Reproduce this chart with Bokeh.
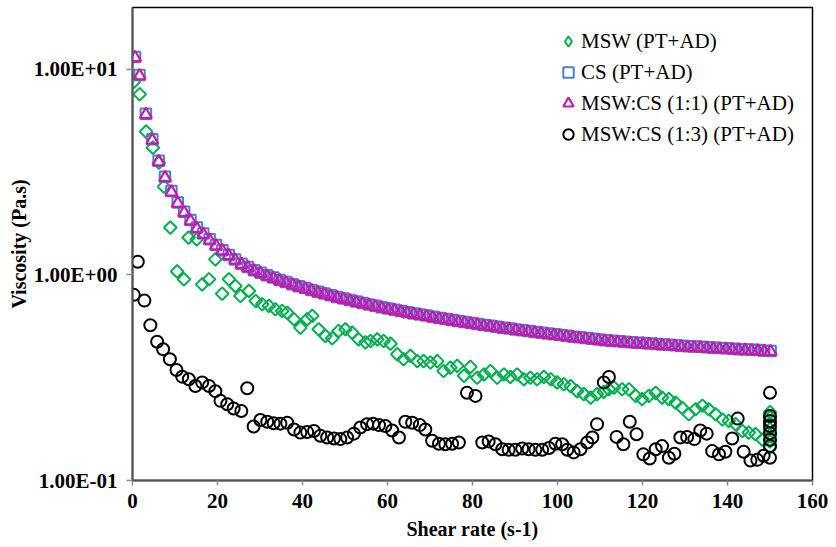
import math
from bokeh.plotting import figure
from bokeh.models import FixedTicker, Legend, LegendItem, Range1d
from bokeh.embed import file_html
from bokeh.resources import INLINE

# ---------------- data ----------------
shear_grid = [0.6, 1.65, 3.15, 4.65, 6.15, 7.65, 9.15, 10.65, 12.15, 13.65,
              15.15, 16.65, 18.15, 19.65, 21.15, 22.65, 24.15, 25.65, 27.15, 28.65,
              30.15, 31.65, 33.15, 34.65, 36.15, 37.65, 39.15, 40.65, 42.15, 43.65,
              45.15, 46.65, 48.15, 49.65, 51.15, 52.65, 54.15, 55.65, 57.15, 58.65,
              60.15, 61.65, 63.15, 64.65, 66.15, 67.65, 69.15, 70.65, 72.15, 73.65,
              75.15, 76.65, 78.15, 79.65, 81.15, 82.65, 84.15, 85.65, 87.15, 88.65,
              90.15, 91.65, 93.15, 94.65, 96.15, 97.65, 99.15, 100.65, 102.15, 103.65,
              105.15, 106.65, 108.15, 109.65, 111.15, 112.65, 114.15, 115.65, 117.15, 118.65,
              120.15, 121.65, 123.15, 124.65, 126.15, 127.65, 129.15, 130.65, 132.15, 133.65,
              135.15, 136.65, 138.15, 139.65, 141.15, 142.65, 144.15, 145.65, 147.15, 148.65,
              150.15]

visc_cs = [11.5, 9.4, 6.09, 4.57, 3.59, 3.00, 2.56, 2.25, 2.03, 1.85,
           1.70, 1.59, 1.49, 1.40, 1.32, 1.25, 1.19, 1.135, 1.094, 1.054,
           1.026, 0.997, 0.971, 0.946, 0.923, 0.902, 0.882, 0.863, 0.845, 0.828,
           0.812, 0.796, 0.782, 0.768, 0.755, 0.742, 0.730, 0.719, 0.708, 0.697,
           0.687, 0.678, 0.668, 0.659, 0.650, 0.642, 0.634, 0.626, 0.618, 0.611,
           0.604, 0.597, 0.590, 0.584, 0.578, 0.571, 0.566, 0.560, 0.554, 0.549,
           0.543, 0.538, 0.533, 0.528, 0.524, 0.519, 0.514, 0.510, 0.506, 0.501,
           0.497, 0.493, 0.489, 0.485, 0.481, 0.479, 0.476, 0.473, 0.471, 0.468,
           0.466, 0.464, 0.462, 0.459, 0.457, 0.455, 0.452, 0.450, 0.448, 0.447,
           0.445, 0.443, 0.441, 0.440, 0.437, 0.435, 0.434, 0.432, 0.431, 0.428,
           0.427]

visc_msw_cs_11 = [11.4, 9.3, 6.02, 4.52, 3.55, 2.97, 2.53, 2.23, 2.01, 1.83,
                  1.68, 1.575, 1.475, 1.385, 1.31, 1.24, 1.18, 1.125, 1.085, 1.045,
                  1.016, 0.987, 0.961, 0.937, 0.914, 0.893, 0.873, 0.854, 0.837, 0.820,
                  0.804, 0.788, 0.774, 0.760, 0.747, 0.735, 0.723, 0.712, 0.701, 0.690,
                  0.680, 0.671, 0.661, 0.652, 0.644, 0.636, 0.628, 0.620, 0.612, 0.605,
                  0.598, 0.591, 0.584, 0.578, 0.572, 0.565, 0.560, 0.554, 0.548, 0.544,
                  0.538, 0.533, 0.528, 0.523, 0.519, 0.514, 0.509, 0.505, 0.501, 0.496,
                  0.492, 0.488, 0.484, 0.480, 0.476, 0.474, 0.471, 0.468, 0.466, 0.463,
                  0.461, 0.459, 0.457, 0.454, 0.452, 0.450, 0.447, 0.445, 0.443, 0.442,
                  0.440, 0.438, 0.436, 0.435, 0.433, 0.431, 0.430, 0.428, 0.427, 0.424,
                  0.423]

shear_msw = [0.3, 1.7, 3.2, 4.8, 6.2, 7.4, 8.9, 10.5, 12.1, 13.2,
             15.1, 16.4, 18.0, 19.5, 21.1, 22.7, 24.2, 25.4, 27.4, 29.0,
             30.5, 32.1, 33.6, 35.2, 36.4, 38.0, 39.5, 41.1, 42.3, 43.8,
             45.4, 47.0, 48.5, 50.1, 51.7, 53.2, 54.8, 56.0, 57.6, 59.1,
             60.7, 62.3, 63.8, 65.4, 67.0, 68.5, 70.1, 71.7, 73.2, 74.8,
             76.4, 78.0, 79.5, 81.1, 82.7, 84.2, 85.8, 87.4, 88.9, 90.5,
             92.1, 93.6, 95.2, 96.8, 98.4, 99.9, 101.5, 103.1, 104.6, 106.2,
             107.8, 109.3, 110.9, 112.1, 113.3, 115.2, 116.8, 118.4, 119.9, 121.5,
             123.1, 124.6, 126.2, 127.8, 129.3, 130.9, 132.5, 134.1, 135.6, 137.2,
             138.8, 140.3, 141.9, 143.5, 145.0, 146.6, 148.2, 150.0, 150.0, 150.0,
             150.0, 150.0, 150.0, 150.0]
visc_msw = [8.7, 7.57, 4.98, 4.16, 3.52, 2.69, 1.70, 1.04, 0.953, 1.52,
            1.49, 0.90, 0.953, 1.19, 0.81, 0.953, 0.884, 0.79, 0.836, 0.747,
            0.72, 0.707, 0.681, 0.668, 0.655, 0.609, 0.554, 0.609, 0.632, 0.544,
            0.505, 0.492, 0.534, 0.544, 0.524, 0.486, 0.470, 0.477, 0.486, 0.477,
            0.463, 0.411, 0.389, 0.404, 0.381, 0.381, 0.375, 0.381, 0.341, 0.354,
            0.361, 0.323, 0.357, 0.316, 0.328, 0.341, 0.316, 0.328, 0.319, 0.328,
            0.311, 0.316, 0.311, 0.319, 0.311, 0.300, 0.294, 0.288, 0.272, 0.263,
            0.253, 0.263, 0.270, 0.278, 0.283, 0.278, 0.278, 0.258, 0.249, 0.258,
            0.267, 0.253, 0.249, 0.239, 0.226, 0.210, 0.222, 0.231, 0.222, 0.210,
            0.198, 0.195, 0.188, 0.174, 0.171, 0.168, 0.158, 0.215, 0.203, 0.190,
            0.178, 0.166, 0.155, 0.145]

shear_13 = [0.3, 1.25, 2.8, 4.2, 5.8, 7.2, 8.8, 10.35, 11.7, 13.25,
            14.8, 16.4, 18.0, 19.5, 20.7, 22.3, 23.8, 25.6, 27.0, 28.5,
            30.1, 31.7, 33.2, 34.8, 36.4, 38.0, 39.5, 41.1, 42.7, 44.2,
            45.8, 47.4, 48.9, 50.5, 52.1, 53.6, 55.2, 56.6, 58.0, 59.5,
            61.1, 62.7, 64.2, 65.8, 67.6, 68.9, 70.5, 72.1, 73.6, 75.2,
            76.8, 78.7, 80.7, 82.3, 83.8, 85.4, 87.0, 88.5, 90.1, 91.7,
            93.2, 94.8, 96.4, 98.0, 99.5, 101.1, 102.3, 103.8, 105.4, 107.0,
            108.2, 109.3, 110.9, 112.1, 113.9, 115.5, 117.0, 118.6, 120.2, 121.7,
            123.1, 124.6, 126.2, 127.5, 128.9, 130.5, 132.2, 133.6, 135.1, 136.4,
            138.0, 139.5, 141.1, 142.4, 143.8, 145.4, 147.0, 148.5, 150.0, 150.0,
            150.0, 150.0, 150.0, 150.0, 150.0, 150.0]
visc_13 = [0.80, 1.16, 0.75, 0.569, 0.473, 0.435, 0.389, 0.345, 0.320, 0.311,
           0.288, 0.300, 0.288, 0.272, 0.244, 0.235, 0.224, 0.218, 0.281, 0.183,
           0.197, 0.193, 0.190, 0.189, 0.191, 0.177, 0.171, 0.172, 0.174, 0.165,
           0.162, 0.160, 0.159, 0.162, 0.169, 0.181, 0.188, 0.189, 0.186, 0.184,
           0.175, 0.162, 0.193, 0.191, 0.186, 0.177, 0.156, 0.151, 0.150, 0.151,
           0.153, 0.267, 0.258, 0.153, 0.155, 0.150, 0.142, 0.141, 0.141, 0.143,
           0.142, 0.141, 0.141, 0.144, 0.151, 0.150, 0.141, 0.137, 0.142, 0.153,
           0.162, 0.188, 0.300, 0.319, 0.163, 0.150, 0.193, 0.168, 0.134, 0.128,
           0.142, 0.147, 0.129, 0.135, 0.162, 0.163, 0.159, 0.175, 0.169, 0.139,
           0.134, 0.138, 0.160, 0.200, 0.138, 0.125, 0.126, 0.132, 0.267, 0.206,
           0.195, 0.184, 0.170, 0.158, 0.147, 0.129]

series_labels = ["MSW (PT+AD)", "CS (PT+AD)", "MSW:CS (1:1) (PT+AD)", "MSW:CS (1:3) (PT+AD)"]
x_ticks = [0, 20, 40, 60, 80, 100, 120, 140, 160]
y_ticks = [0.1, 1.0, 10.0]
y_tick_labels = ["1.00E-01", "1.00E+00", "1.00E+01"]

# ---------------- figure ----------------
FONT = "'Liberation Serif', serif"
GREEN = "#00B050"
BLUE = "#4F81BD"
MAGENTA = "#C21BB4"

p = figure(width=836, height=547, y_axis_type="log",
           x_range=Range1d(0, 160), y_range=Range1d(0.1, 20.0),
           output_backend="svg", toolbar_location=None,
           min_border_left=132, min_border_right=24,
           min_border_top=7, min_border_bottom=67)

p.background_fill_color = "white"
p.border_fill_color = "white"
p.outline_line_color = "black"
p.outline_line_width = 1.5
p.xgrid.visible = False
p.ygrid.visible = False

r_msw = p.scatter(shear_msw, visc_msw, marker="square", angle=math.pi / 4,
                  size=9, fill_color=None, line_color=GREEN, line_width=2)
r_cs = p.scatter(shear_grid, visc_cs, marker="square", size=10.5,
                 fill_color=None, line_color=BLUE, line_width=2)
r_11 = p.scatter(shear_grid, visc_msw_cs_11, marker="triangle", size=12,
                 fill_color=None, line_color=MAGENTA, line_width=2.2)
r_13 = p.scatter(shear_13, visc_13, marker="circle", size=12,
                 fill_color=None, line_color="black", line_width=2)

# legend-only glyph for the diamond key (rotation is not applied in legends)
r_msw_key = p.scatter([float("nan")], [float("nan")], marker="diamond", size=12,
                      fill_color=None, line_color=GREEN, line_width=2)

# axes
xa = p.xaxis[0]
xa.ticker = FixedTicker(ticks=x_ticks, minor_ticks=[])
xa.axis_label = "Shear rate (s-1)"
ya = p.yaxis[0]
ya.ticker = FixedTicker(ticks=y_ticks, minor_ticks=[])
ya.major_label_overrides = {t: l for t, l in zip(y_ticks, y_tick_labels)}
ya.axis_label = "Viscosity (Pa.s)"

for ax in (xa, ya):
    ax.axis_line_color = "#555555"
    ax.axis_line_width = 2
    ax.major_tick_line_color = "#888888"
    ax.major_tick_line_width = 1.5
    ax.major_tick_in = 0
    ax.minor_tick_line_color = None
    ax.major_label_text_font = FONT
    ax.major_label_text_font_style = "bold"
    ax.major_label_text_font_size = "21px"
    ax.major_label_text_color = "black"
    ax.axis_label_text_font = FONT
    ax.axis_label_text_font_style = "bold"
    ax.axis_label_text_font_size = "20px"
    ax.axis_label_text_color = "black"

xa.major_tick_out = 5
xa.major_label_standoff = 8
xa.axis_label_standoff = 7
ya.major_tick_out = 6
ya.major_label_standoff = 9
ya.axis_label_standoff = 1

legend = Legend(items=[
    LegendItem(label=series_labels[0], renderers=[r_msw_key]),
    LegendItem(label=series_labels[1], renderers=[r_cs]),
    LegendItem(label=series_labels[2], renderers=[r_11]),
    LegendItem(label=series_labels[3], renderers=[r_13]),
], location=(423, 333))
legend.background_fill_alpha = 0
legend.border_line_color = None
legend.label_text_font = FONT
legend.label_text_font_size = "21px"
legend.label_text_color = "black"
legend.glyph_width = 26
legend.glyph_height = 26
legend.label_standoff = 0
legend.spacing = 5
legend.padding = 0
legend.margin = 0
p.add_layout(legend)

open("out.html", "w").write(file_html(p, INLINE))
